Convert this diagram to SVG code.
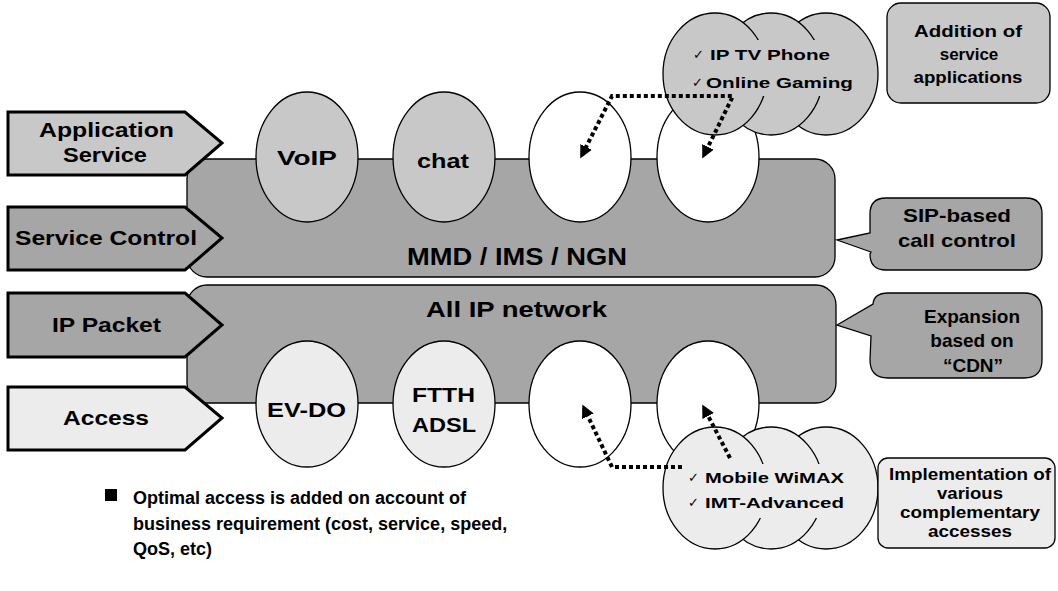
<svg xmlns="http://www.w3.org/2000/svg" width="1058" height="591" viewBox="0 0 1058 591">
  <style>
    .t { font-family: "Liberation Sans", Arial, sans-serif; font-weight: bold; fill: #000; }
    .ck { font-family: "DejaVu Sans", sans-serif; font-weight: normal; fill: #000; font-size: 13px; }
    .c { text-anchor: middle; }
    .ln { stroke: #000; stroke-width: 1.3; }
    .pent { stroke: #000; stroke-width: 3; stroke-linejoin: miter; }
    .lt { fill: #c8c8c8; }
    .md { fill: #a6a6a6; }
    .xl { fill: #ececec; }
    .wh { fill: #ffffff; }
    .dot { fill: none; stroke: #000; stroke-width: 4; stroke-dasharray: 4 3; }
  </style>
  <defs>
    <marker id="ah" viewBox="0 0 10 10" refX="7" refY="5" markerUnits="userSpaceOnUse" markerWidth="13" markerHeight="13" orient="auto-start-reverse">
      <path d="M0,0 L10,5 L0,10 Z" fill="#000"/>
    </marker>
  </defs>

  <rect width="1058" height="591" fill="#ffffff"/>

  <!-- platform bars -->
  <g id="mmd-bar">
    <rect x="187" y="159" width="648" height="118" rx="20" class="md ln"/>
    <text class="t" x="407" y="265" font-size="23" textLength="220" lengthAdjust="spacingAndGlyphs">MMD / IMS / NGN</text>
  </g>
  <g id="ip-bar">
    <rect x="187" y="285" width="649" height="118" rx="20" class="md ln"/>
    <text class="t" x="426" y="317" font-size="22" textLength="181" lengthAdjust="spacingAndGlyphs">All IP network</text>
  </g>

  <!-- layer labels -->
  <g id="layer-application">
    <path d="M8,112 L185,112 L222,143 L185,175 L8,175 Z" class="pent lt"/>
    <text class="t" x="39" y="137" font-size="20" textLength="135" lengthAdjust="spacingAndGlyphs">Application</text>
    <text class="t" x="63" y="162" font-size="20" textLength="84" lengthAdjust="spacingAndGlyphs">Service</text>
  </g>
  <g id="layer-control">
    <path d="M8,207 L185,207 L222,238 L185,270 L8,270 Z" class="pent md"/>
    <text class="t" x="15" y="245" font-size="21" textLength="182" lengthAdjust="spacingAndGlyphs">Service Control</text>
  </g>
  <g id="layer-packet">
    <path d="M8,293 L185,293 L222,325 L185,357 L8,357 Z" class="pent md"/>
    <text class="t" x="52" y="332" font-size="21" textLength="109" lengthAdjust="spacingAndGlyphs">IP Packet</text>
  </g>
  <g id="layer-access">
    <path d="M8,387 L185,387 L222,418 L185,450 L8,450 Z" class="pent xl"/>
    <text class="t" x="63" y="425" font-size="21" textLength="86" lengthAdjust="spacingAndGlyphs">Access</text>
  </g>

  <!-- application row -->
  <g id="app-voip">
    <ellipse cx="307" cy="157" rx="51" ry="65" class="lt ln"/>
    <text class="t" x="277" y="165" font-size="21" textLength="60" lengthAdjust="spacingAndGlyphs">VoIP</text>
  </g>
  <g id="app-chat">
    <ellipse cx="444" cy="157" rx="51" ry="65" class="lt ln"/>
    <text class="t" x="417" y="168" font-size="21" textLength="52" lengthAdjust="spacingAndGlyphs">chat</text>
  </g>
  <g id="app-slot-1">
    <ellipse cx="580" cy="157" rx="51" ry="65" class="wh ln"/>
  </g>
  <g id="app-slot-2">
    <ellipse cx="708" cy="157" rx="51" ry="65" class="wh ln"/>
  </g>

  <!-- access row -->
  <g id="acc-evdo">
    <ellipse cx="307" cy="404" rx="51" ry="63" class="xl ln"/>
    <text class="t" x="267" y="417" font-size="21" textLength="79" lengthAdjust="spacingAndGlyphs">EV-DO</text>
  </g>
  <g id="acc-ftth">
    <ellipse cx="444" cy="404" rx="51" ry="63" class="xl ln"/>
    <text class="t" x="412" y="402" font-size="21" textLength="63" lengthAdjust="spacingAndGlyphs">FTTH</text>
    <text class="t" x="412" y="432" font-size="21" textLength="64" lengthAdjust="spacingAndGlyphs">ADSL</text>
  </g>
  <g id="acc-slot-1">
    <ellipse cx="580" cy="404" rx="51" ry="63" class="wh ln"/>
  </g>
  <g id="acc-slot-2">
    <ellipse cx="708" cy="404" rx="51" ry="63" class="wh ln"/>
  </g>

  <!-- new services cluster -->
  <g id="cluster-services">
    <ellipse cx="826" cy="74" rx="52" ry="61" class="lt ln"/>
    <ellipse cx="771" cy="74" rx="52" ry="61" class="lt ln"/>
    <ellipse cx="715" cy="74" rx="52" ry="61" class="lt ln"/>
    <!-- text panel, same fill as the bubbles -->
    <rect x="690" y="40" width="168" height="56" class="lt"/>
    <text class="ck" x="693" y="59">✓</text>
    <text class="t" x="710" y="60" font-size="15" textLength="120" lengthAdjust="spacingAndGlyphs">IP TV Phone</text>
    <text class="ck" x="692" y="87">✓</text>
    <text class="t" x="706" y="88" font-size="15" textLength="147" lengthAdjust="spacingAndGlyphs">Online Gaming</text>
  </g>

  <!-- new access cluster -->
  <g id="cluster-access">
    <ellipse cx="826" cy="488" rx="52" ry="61" class="xl ln"/>
    <ellipse cx="771" cy="488" rx="52" ry="61" class="xl ln"/>
    <ellipse cx="715" cy="488" rx="52" ry="61" class="xl ln"/>
    <rect x="684" y="464" width="168" height="54" class="xl"/>
    <text class="ck" x="688" y="482">✓</text>
    <text class="t" x="705" y="483" font-size="15" textLength="139" lengthAdjust="spacingAndGlyphs">Mobile WiMAX</text>
    <text class="ck" x="688" y="507">✓</text>
    <text class="t" x="705" y="508" font-size="15" textLength="139" lengthAdjust="spacingAndGlyphs">IMT-Advanced</text>
  </g>

  <!-- annotations -->
  <g id="note-service-apps">
    <rect x="887" y="3" width="163" height="100" rx="14" class="lt ln"/>
    <text class="t c" x="968" y="37" font-size="17" textLength="108" lengthAdjust="spacingAndGlyphs">Addition of</text>
    <text class="t c" x="969" y="60" font-size="17">service</text>
    <text class="t c" x="968" y="83" font-size="17" textLength="109" lengthAdjust="spacingAndGlyphs">applications</text>
  </g>
  <g id="note-sip">
    <path d="M886,198 L1026,198 Q1042,198 1042,214 L1042,254 Q1042,270 1026,270 L886,270 Q870,270 870,254 L871,252 L837,240 L870,233 L870,214 Q870,198 886,198 Z" class="md ln"/>
    <text class="t c" x="957" y="222" font-size="19" textLength="108" lengthAdjust="spacingAndGlyphs">SIP-based</text>
    <text class="t c" x="957" y="247" font-size="19" textLength="118" lengthAdjust="spacingAndGlyphs">call control</text>
  </g>
  <g id="note-cdn">
    <path d="M888,293 L1024,293 Q1042,293 1042,311 L1042,360 Q1042,378 1024,378 L888,378 Q870,378 870,360 L871,336 L837,325 L873,304 Q874,293 888,293 Z" class="md ln"/>
    <text class="t c" x="972" y="323" font-size="19">Expansion</text>
    <text class="t c" x="972" y="347" font-size="19">based on</text>
    <text class="t c" x="973" y="372" font-size="19">“CDN”</text>
  </g>
  <g id="note-access">
    <rect x="878" y="458" width="177" height="90" rx="10" class="xl ln"/>
    <text class="t c" x="970" y="480" font-size="16" textLength="162" lengthAdjust="spacingAndGlyphs">Implementation of</text>
    <text class="t c" x="970" y="499" font-size="16" textLength="66" lengthAdjust="spacingAndGlyphs">various</text>
    <text class="t c" x="970" y="518" font-size="16" textLength="140" lengthAdjust="spacingAndGlyphs">complementary</text>
    <text class="t c" x="970" y="537" font-size="16" textLength="84" lengthAdjust="spacingAndGlyphs">accesses</text>
  </g>

  <!-- connectors -->
  <g id="connectors">
    <path d="M582,155 L612,96 L733,96 L704,155" class="dot" marker-start="url(#ah)" marker-end="url(#ah)"/>
    <path d="M682,467 L612,467 L584,408" class="dot" marker-end="url(#ah)"/>
    <path d="M730,458 L704,408" class="dot" marker-end="url(#ah)"/>
  </g>

  <!-- footnote -->
  <g id="footnote">
    <rect x="105" y="489" width="12" height="12" fill="#000"/>
    <text class="t" x="133" y="504" font-size="18">Optimal access is added on account of</text>
    <text class="t" x="133" y="530" font-size="18">business requirement (cost, service, speed,</text>
    <text class="t" x="133" y="555" font-size="18">QoS, etc)</text>
  </g>
</svg>
